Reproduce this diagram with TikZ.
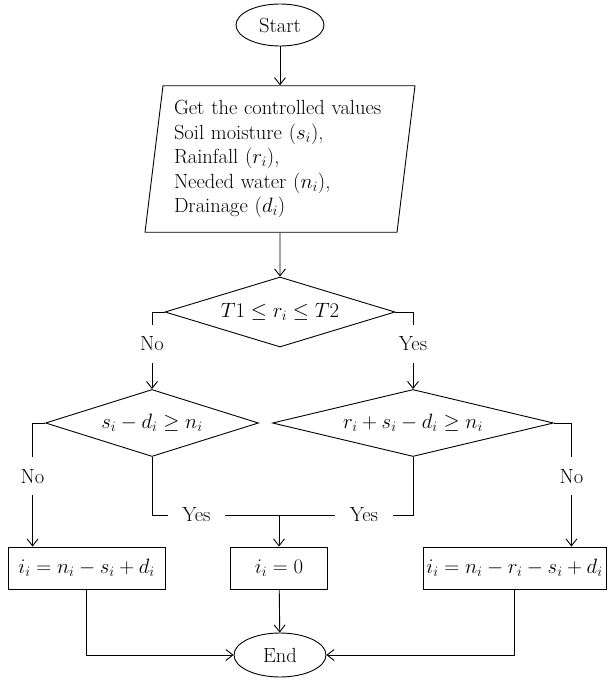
\documentclass[tikz,border=0pt]{standalone}
\usepackage{amsmath}
\usepackage{tikz}
\usetikzlibrary{arrows.meta,shapes.geometric}
\tikzset{
  term/.style={draw,ellipse,inner sep=0pt,minimum width=88pt,minimum height=42pt},
  inbox/.style={draw,trapezium,trapezium left angle=83,trapezium right angle=97,
    text width=212pt,align=left,inner xsep=11pt,inner ysep=14.5pt,
    font=\fontsize{20.5}{24.5}\selectfont},
  test/.style={draw,diamond,inner sep=0pt,minimum height=67pt},
  calc/.style={draw,rectangle,minimum height=42pt,inner sep=0pt},
  flow/.style={-{Straight Barb[length=7pt,width=11pt]}},
  lblv/.style={fill=white,inner xsep=2pt,inner ysep=12pt},
  lblh/.style={fill=white,inner xsep=14.5pt,inner ysep=3pt}
}

\begin{document}
\begin{tikzpicture}[x=1pt,y=-1pt,line width=0.9pt,
    font=\fontsize{20.5}{22.5}\selectfont]
  \useasboundingbox (0,0) rectangle (608,680);
  % nodes
  \node[term] (start) at (280,25) {Start};
  \node[inbox] (get) at (280,159) {Get the controlled values\\
    Soil moisture $(s_i)$,\\ Rainfall $(r_i)$,\\ Needed water $(n_i)$,\\ Drainage $(d_i)$};
  \node[test,aspect=3.29,minimum width=230pt,minimum height=70pt] (rain) at (280,312) {$T1 \le r_i \le T2$};
  \node[test,aspect=3.18,minimum width=213pt] (soil) at (152,423) {$s_i - d_i \ge n_i$};
  \node[test,aspect=4.19,minimum width=281pt] (both) at (413,423) {$r_i + s_i - d_i \ge n_i$};
  \node[calc,minimum width=157pt] (irrA) at (86.5,568) {$i_i = n_i - s_i + d_i$};
  \node[calc,minimum width=97pt] (irr0) at (279,568) {$i_i = 0$};
  \node[calc,minimum width=183pt] (irrB) at (514.5,568) {$i_i = n_i - r_i - s_i + d_i$};
  \node[term,minimum width=92pt,minimum height=44pt] (end) at (280,655) {End};
  \coordinate (join) at (279,515);
  % connectors
  \draw[flow] (start) -- (get);
  \draw[flow] (get) -- (rain);
  \draw[flow] (rain.west) -| node[lblv,pos=.705] {No} (soil.north);
  \draw[flow] (rain.east) -| node[lblv,pos=.705] {Yes} (both.north);
  \draw[flow] (soil.west) -| node[lblv,pos=.715] {No} ([xshift=25pt]irrA.north west);
  \draw[flow] (both.east) -| node[lblv,pos=.715] {No} ([xshift=-35pt]irrB.north east);
  \draw (soil.south) |- node[lblh,pos=.675] {Yes} (join);
  \draw (both.south) |- node[lblh,pos=.683] {Yes} (join);
  \draw[flow] (join) -- (irr0);
  \draw[flow] (irrA.south) |- (end.west);
  \draw[flow] (irr0) -- (end);
  \draw[flow] (irrB.south) |- (end.east);
\end{tikzpicture}
\end{document}
